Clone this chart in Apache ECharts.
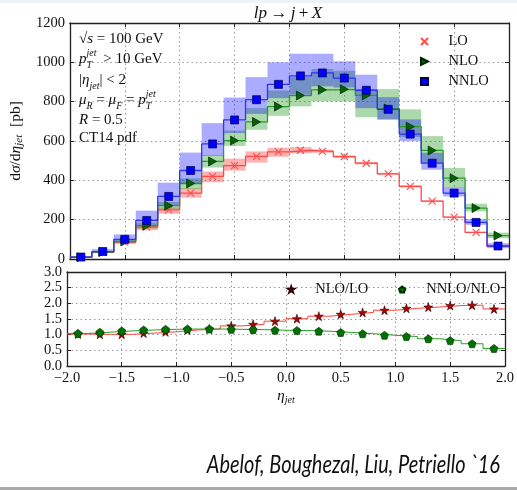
<!DOCTYPE html>
<html><head><meta charset="utf-8">
<script src="https://cdn.jsdelivr.net/npm/echarts@6/dist/echarts.min.js"></script>
<style>html,body{margin:0;padding:0;background:#fff}#c{width:517px;height:490px}</style>
</head><body><div id="c"></div>
<script>
// ---- data ----
const etaCenters = [-1.9,-1.7,-1.5,-1.3,-1.1,-0.9,-0.7,-0.5,-0.3,-0.1,0.1,0.3,0.5,0.7,0.9,1.1,1.3,1.5,1.7,1.9];
const binHalfWidth = 0.1;
const LO   = [9,34,86,162,250,335,420,475,522,545,553,547,521,487,433,369,294,213,135,64];
const NLO  = [9,35,89,170,271,384,496,602,697,775,831,860,863,832,765,673,552,411,259,119];
const NNLO = [10,38,100,196,318,450,585,707,810,888,931,946,920,858,761,635,487,335,186,66];
const LO_low   = [7,30,76,146,230,312,390,449,490,520,538,540,515,481,428,364,290,210,132,62];
const LO_high  = [10,36,92,172,262,360,445,510,547,566,569,555,527,493,438,374,298,216,138,66];
const NLO_low  = [8,32,82,155,255,355,465,575,657,728,776,801,801,721,711,620,488,366,242,106];
const NLO_high = [11,38,96,185,290,410,529,653,767,857,925,966,957,864,864,761,625,463,281,134];
const NNLO_low = [7,30,85,170,272,385,525,640,738,818,835,878,872,767,708,600,454,318,174,55];
const NNLO_high= [14,50,125,246,388,541,691,821,925,1000,1044,1044,1005,937,823,710,540,366,203,80];
const ratioNLOoverLO   = [1.02,1.01,1.01,1.05,1.09,1.15,1.18,1.28,1.33,1.43,1.51,1.59,1.65,1.71,1.78,1.84,1.88,1.93,1.94,1.82];
const ratioNNLOoverNLO = [1.04,1.08,1.12,1.15,1.17,1.18,1.18,1.17,1.16,1.14,1.13,1.11,1.07,1.03,0.98,0.94,0.87,0.81,0.71,0.56];
const xTickRange = {min:-2, max:2, interval:0.5};
const yTopRange = {min:0, max:1200, interval:200};
const yBotRange = {min:0, max:3, interval:0.5};

// ---- helpers ----
const steps = v => etaCenters.flatMap((c,i)=>[[c-binHalfWidth,v[i]],[c+binHalfWidth,v[i]]]);
const pts = v => etaCenters.map((c,i)=>[c,v[i]]);
const band = (lo,hi) => etaCenters.map((c,i)=>[c,lo[i],hi[i]]);
function bandRender(color){
  return function(params, api){
    const c=api.value(0), lo=api.value(1), hi=api.value(2);
    const p1=api.coord([c-binHalfWidth,hi]), p2=api.coord([c+binHalfWidth,lo]);
    return {type:'rect', shape:{x:p1[0],y:p1[1],width:p2[0]-p1[0],height:p2[1]-p1[1]}, style:{fill:color}};
  };
}
const SERIF = 'Liberation Serif';
const FRAME = {show:true, onZero:false, lineStyle:{color:'#222', width:1.3}};
const TICK = {show:true, inside:true, length:4, lineStyle:{color:'#222', width:1}};
const GRIDLINE = {show:true, lineStyle:{color:'#999', width:1, type:[1.5,3]}};
const LBL = {fontFamily:SERIF, fontSize:14.5, color:'#111'};
const fmtX = v => (v<0?'\u2212':'')+Math.abs(v).toFixed(1);

const X_PATH = 'path://M0,0L10,10M10,0L0,10';
const TRI_PATH = 'path://M0,0L10,5L0,10Z';
const SQ_PATH = 'path://M0,0L10,0L10,10L0,10Z';
const STAR_PATH = 'path://M50,0L61,35L98,35L68,57L79,91L50,70L21,91L32,57L2,35L39,35Z';
const PENT_PATH = 'path://M50,0L98,35L79,91L21,91L2,35Z';

const chart = echarts.init(document.getElementById('c'), null, {renderer:'canvas'});
const mainRich = {
  r:{fontFamily:SERIF, fontSize:15, color:'#111', lineHeight:22, verticalAlign:'middle'},
  i:{fontFamily:SERIF, fontSize:15, fontStyle:'italic', color:'#111', lineHeight:22, verticalAlign:'middle'},
  sub:{fontFamily:SERIF, fontSize:10, fontStyle:'italic', color:'#111', lineHeight:10, verticalAlign:'bottom'},
  subw:{fontFamily:SERIF, fontSize:10, fontStyle:'italic', color:'#111', lineHeight:10, verticalAlign:'bottom', width:13},
  sup:{fontFamily:SERIF, fontSize:10, fontStyle:'italic', color:'#111', lineHeight:10, verticalAlign:'top'},
  sup0:{fontFamily:SERIF, fontSize:10, fontStyle:'italic', color:'#111', lineHeight:10, verticalAlign:'top', width:0.001}
};
function note(y, text){
  return {type:'text', x:79, y:y, z:100, style:{text:text, rich:mainRich, align:'left', verticalAlign:'middle', fontFamily:SERIF, fontSize:15, fill:'#111'}};
}

const option = {
  animation:false,
  backgroundColor:'#fff',
  grid:[
    {left:67, top:23, width:442, height:236},
    {left:67, top:272, width:442, height:94}
  ],
  xAxis:[
    Object.assign({gridIndex:0, type:'value', position:'bottom', axisLine:FRAME, axisTick:TICK, axisLabel:{show:false}, splitLine:GRIDLINE}, xTickRange),
    Object.assign({gridIndex:0, type:'value', position:'top', axisLine:FRAME, axisTick:TICK, axisLabel:{show:false}, splitLine:{show:false}}, xTickRange),
    Object.assign({gridIndex:1, type:'value', position:'bottom', axisLine:FRAME, axisTick:TICK,
      axisLabel:Object.assign({margin:5, formatter:fmtX}, LBL), splitLine:GRIDLINE,
      name:'{i|η}{sub|jet}', nameLocation:'middle', nameGap:21,
      nameTextStyle:{rich:{i:{fontFamily:SERIF, fontSize:15, fontStyle:'italic', color:'#111', lineHeight:18, verticalAlign:'middle'},
                          sub:{fontFamily:SERIF, fontSize:10, fontStyle:'italic', color:'#111', lineHeight:8, verticalAlign:'bottom'}}}}, xTickRange),
    Object.assign({gridIndex:1, type:'value', position:'top', axisLine:FRAME, axisTick:TICK, axisLabel:{show:false}, splitLine:{show:false}}, xTickRange)
  ],
  yAxis:[
    Object.assign({gridIndex:0, type:'value', position:'left', axisLine:FRAME, axisTick:TICK,
      axisLabel:Object.assign({margin:5, formatter:v=>String(v)}, LBL), splitLine:GRIDLINE,
      name:'{r|d}{i|σ}{r|/d}{i|η}{sub|jet}{r|  [pb]}', nameLocation:'middle', nameGap:35, nameRotate:90,
      nameTextStyle:{rich:{r:{fontFamily:SERIF, fontSize:15.5, color:'#111', lineHeight:18, verticalAlign:'middle'},
                          i:{fontFamily:SERIF, fontSize:15.5, fontStyle:'italic', color:'#111', lineHeight:18, verticalAlign:'middle'},
                          sub:{fontFamily:SERIF, fontSize:11, fontStyle:'italic', color:'#111', lineHeight:8, verticalAlign:'bottom'}}}}, yTopRange),
    Object.assign({gridIndex:0, type:'value', position:'right', axisLine:FRAME, axisTick:TICK, axisLabel:{show:false}, splitLine:{show:false}}, yTopRange),
    Object.assign({gridIndex:1, type:'value', position:'left', axisLine:FRAME, axisTick:TICK,
      axisLabel:Object.assign({margin:5, formatter:v=>v.toFixed(1)}, LBL), splitLine:GRIDLINE}, yBotRange),
    Object.assign({gridIndex:1, type:'value', position:'right', axisLine:FRAME, axisTick:TICK, axisLabel:{show:false}, splitLine:{show:false}}, yBotRange)
  ],
  legend:[
    {data:['LO','NLO','NNLO'], orient:'vertical', left:420, top:34, padding:0, itemWidth:38, itemHeight:7, itemGap:5,
     selectedMode:false, textStyle:{fontFamily:SERIF, fontSize:14.5, color:'#111', lineHeight:14}},
    {data:['NLO/LO'], left:287, top:282, padding:0, itemWidth:38, itemHeight:6, selectedMode:false,
     textStyle:{fontFamily:SERIF, fontSize:14.5, color:'#111'}},
    {data:['NNLO/NLO'], left:398, top:282, padding:0, itemWidth:38, itemHeight:6, selectedMode:false,
     textStyle:{fontFamily:SERIF, fontSize:14.5, color:'#111'}}
  ],
  series:[
    {type:'custom', name:'LO band', xAxisIndex:0, yAxisIndex:0, renderItem:bandRender('rgba(255,0,0,0.3)'), data:band(LO_low,LO_high), encode:{x:0,y:[1,2]}, z:1, silent:true},
    {type:'custom', name:'NLO band', xAxisIndex:0, yAxisIndex:0, renderItem:bandRender('rgba(0,140,0,0.33)'), data:band(NLO_low,NLO_high), encode:{x:0,y:[1,2]}, z:1, silent:true},
    {type:'custom', name:'NNLO band', xAxisIndex:0, yAxisIndex:0, renderItem:bandRender('rgba(0,0,255,0.33)'), data:band(NNLO_low,NNLO_high), encode:{x:0,y:[1,2]}, z:1, silent:true},
    {type:'line', name:'LO step', xAxisIndex:0, yAxisIndex:0, data:steps(LO), showSymbol:false, symbol:'none', lineStyle:{color:'#ff4848', width:1.3}, z:3},
    {type:'line', name:'NLO step', xAxisIndex:0, yAxisIndex:0, data:steps(NLO), showSymbol:false, symbol:'none', lineStyle:{color:'#2a9a2a', width:1.3}, z:3},
    {type:'line', name:'NNLO step', xAxisIndex:0, yAxisIndex:0, data:steps(NNLO), showSymbol:false, symbol:'none', lineStyle:{color:'#3030ff', width:1.3}, z:3},
    {type:'scatter', name:'LO', xAxisIndex:0, yAxisIndex:0, data:pts(LO), symbol:X_PATH, symbolSize:7,
     itemStyle:{color:'rgba(0,0,0,0)', borderColor:'#ff5050', borderWidth:1.2, opacity:1}, z:5},
    {type:'scatter', name:'NLO', xAxisIndex:0, yAxisIndex:0, data:pts(NLO), symbol:TRI_PATH, symbolSize:[8,9],
     itemStyle:{color:'#006400', borderColor:'#002200', borderWidth:0.7, opacity:1}, z:5},
    {type:'scatter', name:'NNLO', xAxisIndex:0, yAxisIndex:0, data:pts(NNLO), symbol:SQ_PATH, symbolSize:8,
     itemStyle:{color:'#0000ff', borderColor:'#000055', borderWidth:0.7, opacity:1}, z:5},
    {type:'line', name:'NLO/LO step', xAxisIndex:2, yAxisIndex:2, data:steps(ratioNLOoverLO), showSymbol:false, symbol:'none', lineStyle:{color:'#ff4040', width:1}, z:3},
    {type:'line', name:'NNLO/NLO step', xAxisIndex:2, yAxisIndex:2, data:steps(ratioNNLOoverNLO), showSymbol:false, symbol:'none', lineStyle:{color:'#22a022', width:1}, z:3},
    {type:'scatter', name:'NLO/LO', xAxisIndex:2, yAxisIndex:2, data:pts(ratioNLOoverLO), symbol:STAR_PATH, symbolSize:9,
     itemStyle:{color:'#b00000', borderColor:'#300000', borderWidth:0.6, opacity:1}, z:5},
    {type:'scatter', name:'NNLO/NLO', xAxisIndex:2, yAxisIndex:2, data:pts(ratioNNLOoverNLO), symbol:PENT_PATH, symbolSize:8,
     itemStyle:{color:'#007000', borderColor:'#003000', borderWidth:0.6, opacity:1}, z:5}
  ],
  graphic:[
    {type:'rect', left:0, top:0, shape:{width:517, height:3}, style:{fill:'#eef3f8'}, z:0},
    {type:'rect', left:0, top:487, shape:{width:517, height:3}, style:{fill:'#a8a8a8'}, z:0},
    {type:'text', x:288, y:14, z:100, style:{text:'{i|lp} {r|→} {i|j} {r|+} {i|X}', align:'center', verticalAlign:'middle',
      rich:{i:{fontFamily:SERIF, fontSize:17, fontStyle:'italic', fill:'#111'}, r:{fontFamily:SERIF, fontSize:17, fill:'#111'}}}},
    note(39, '{r|√}{i|s}{r| = 100 GeV}'),
    note(59, '{i|p}{sup0|jet}{subw|T}{r| > 10 GeV}'),
    note(80, '{r||}{i|η}{sub|jet}{r|| < 2}'),
    note(100, '{i|μ}{sub|R}{r| = }{i|μ}{sub|F}{r| = }{i|p}{sup0|jet}{subw|T}'),
    note(120, '{i|R}{r| = 0.5}'),
    note(138, '{r|CT14 pdf}'),
    {type:'text', x:500, y:465, z:100, scaleX:0.8, originX:0, originY:0,
     style:{text:'Abelof, Boughezal, Liu, Petriello `16', align:'right', verticalAlign:'middle',
      fontFamily:'Lato', fontStyle:'italic', fontSize:25, fill:'#111'}}
  ]
};
chart.setOption(option);
</script></body></html>
